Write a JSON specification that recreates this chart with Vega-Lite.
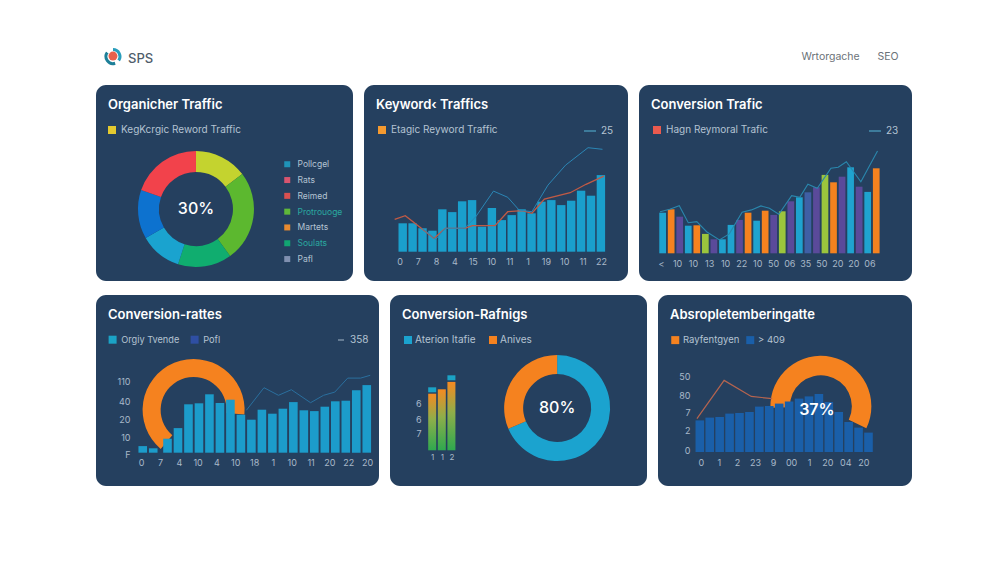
{
  "$schema": "https://vega.github.io/schema/vega-lite/v6.json",
  "description": "SEO dashboard with six dark cards",
  "background": "#ffffff",
  "padding": {"left": 96, "top": 47, "right": 0, "bottom": 0},
  "spacing": 14,
  "config": {
    "font": "Inter",
    "view": {"fill": "#25405f", "stroke": null, "cornerRadius": 10},
    "title": {"anchor": "start", "frame": "group", "color": "#ffffff", "fontSize": 13, "fontWeight": 600, "offset": -26.5, "dx": 12},
    "axis": {"domain": false, "ticks": false, "grid": false, "labelColor": "#a9b9c9", "labelFontSize": 9, "labelBound": false, "labelFlush": false, "labelAngle": 0, "labelOverlap": false, "tickCount": 30},
    "legend": {"labelColor": "#b4c3d2", "labelFontSize": 10, "symbolType": "square", "symbolSize": 64, "symbolStrokeWidth": 0, "symbolOpacity": 1, "labelLimit": 200, "padding": 0}
  },
  "vconcat": [
    {
      "width": 816,
      "height": 24,
      "view": {"fill": null, "stroke": null},
      "resolve": {"scale": {"color": "independent"}},
      "layer": [
        {
          "data": {"values": [{"part": "a", "share": 35}, {"part": "b", "share": 10}, {"part": "c", "share": 40}, {"part": "d", "share": 15}]},
          "transform": [{"stack": "share", "offset": "normalize", "groupby": [], "as": ["a0", "a1"]}],
          "mark": {"type": "arc", "innerRadius": 5.5, "outerRadius": 8.5},
          "encoding": {
            "x": {"datum": 0.0208, "type": "quantitative", "scale": {"domain": [0, 1]}, "axis": null},
            "y": {"datum": 0.6, "type": "quantitative", "scale": {"domain": [0, 1]}, "axis": null},
            "theta": {"field": "a0", "type": "quantitative", "scale": {"domain": [0, 1], "range": [0, 6.2832]}},
            "theta2": {"field": "a1"},
            "color": {"field": "part", "type": "nominal", "legend": null, "scale": {"domain": ["a", "b", "c", "d"], "range": ["#2a9dbb", "#ffffff", "#1d7f98", "#ffffff"]}}
          }
        },
        {
          "data": {"values": [{"part": "core", "share": 1}]},
          "mark": {"type": "arc", "innerRadius": 0, "outerRadius": 4.5, "color": "#e8604c"},
          "encoding": {
            "x": {"datum": 0.0208, "type": "quantitative", "scale": {"domain": [0, 1]}, "axis": null},
            "y": {"datum": 0.62, "type": "quantitative", "scale": {"domain": [0, 1]}, "axis": null},
            "theta": {"field": "share", "type": "quantitative", "stack": null, "scale": {"domain": [0, 1], "range": [0, 6.2832]}}
          }
        },
        {
          "data": {"values": [{"k": "SPS"}]},
          "transform": [{"filter": "false"}],
          "mark": {"type": "square"},
          "encoding": {
            "x": {"datum": 0, "type": "quantitative", "scale": {"domain": [0, 1]}, "axis": null},
            "y": {"datum": 0, "type": "quantitative", "scale": {"domain": [0, 1]}, "axis": null},
            "color": {"field": "k", "type": "nominal", "scale": {"domain": ["SPS"], "range": ["#ffffff"]}, "legend": {"title": null, "orient": "none", "legendX": 18, "legendY": 5, "labelColor": "#4f5d6b", "labelFontSize": 13, "labelFontWeight": 500, "symbolSize": 1, "symbolOpacity": 0, "labelOffset": 1}}
          }
        },
        {
          "data": {"values": [{"k": "Wrtorgache"}, {"k": "SEO"}]},
          "transform": [{"filter": "false"}],
          "mark": {"type": "square"},
          "encoding": {
            "x": {"datum": 0, "type": "quantitative", "scale": {"domain": [0, 1]}, "axis": null},
            "y": {"datum": 0, "type": "quantitative", "scale": {"domain": [0, 1]}, "axis": null},
            "color": {"field": "k", "type": "nominal", "scale": {"domain": ["Wrtorgache", "SEO"], "range": ["#ffffff", "#ffffff"]}, "legend": {"title": null, "orient": "none", "direction": "horizontal", "legendX": 694, "legendY": 5, "labelColor": "#6b7278", "labelFontSize": 10.5, "symbolSize": 1, "symbolOpacity": 0, "labelOffset": 1, "columnPadding": 6}}
          }
        }
      ]
    },
    {
      "hconcat": [
        {
          "width": 257,
          "height": 196,
          "title": {"text": "Organicher Traffic"},
          "resolve": {"scale": {"color": "independent"}},
          "layer": [
            {
              "data": {"values": [
                {"segment": "s1", "share": 14.7}, {"segment": "s2", "share": 25.3}, {"segment": "s3", "share": 15},
                {"segment": "s4", "share": 11.7}, {"segment": "s5", "share": 13.6}, {"segment": "s6", "share": 19.7}
              ]},
              "transform": [{"stack": "share", "offset": "normalize", "groupby": [], "as": ["a0", "a1"]}],
              "mark": {"type": "arc", "innerRadius": 37, "outerRadius": 58},
              "encoding": {
                "x": {"datum": 0.389, "type": "quantitative", "scale": {"domain": [0, 1]}, "axis": null},
                "y": {"datum": 0.367, "type": "quantitative", "scale": {"domain": [0, 1]}, "axis": null},
                "theta": {"field": "a0", "type": "quantitative", "scale": {"domain": [0, 1], "range": [0, 6.2832]}},
                "theta2": {"field": "a1"},
                "color": {"field": "segment", "type": "nominal", "legend": null, "scale": {"domain": ["s1", "s2", "s3", "s4", "s5", "s6"], "range": ["#c4d32f", "#5cb82f", "#10ad6f", "#1aa3cf", "#0d72cf", "#f2424b"]}}
              }
            },
            {
              "data": {"values": [{"label": "30%"}]},
              "mark": {"type": "text", "color": "#ffffff", "fontSize": 16, "fontWeight": 500},
              "encoding": {
                "x": {"datum": 0.389, "type": "quantitative", "scale": {"domain": [0, 1]}, "axis": null},
                "y": {"datum": 0.367, "type": "quantitative", "scale": {"domain": [0, 1]}, "axis": null},
                "text": {"field": "label"}
              }
            },
            {
              "data": {"values": [{"k": "KegKcrgic Reword Traffic"}]},
              "transform": [{"filter": "false"}],
              "mark": {"type": "square"},
              "encoding": {
                "x": {"datum": 0, "type": "quantitative", "scale": {"domain": [0, 1]}, "axis": null},
                "y": {"datum": 0, "type": "quantitative", "scale": {"domain": [0, 1]}, "axis": null},
                "color": {"field": "k", "type": "nominal", "scale": {"domain": ["KegKcrgic Reword Traffic"], "range": ["#e3c92f"]}, "legend": {"title": null, "orient": "none", "legendX": 11, "legendY": 40}}
              }
            },
            {
              "data": {"values": [{"k": "Pollcgel"}, {"k": "Rats"}, {"k": "Reimed"}, {"k": "Protrouoge"}, {"k": "Martets"}, {"k": "Soulats"}, {"k": "Pafl"}]},
              "transform": [{"filter": "false"}],
              "mark": {"type": "square"},
              "encoding": {
                "x": {"datum": 0, "type": "quantitative", "scale": {"domain": [0, 1]}, "axis": null},
                "y": {"datum": 0, "type": "quantitative", "scale": {"domain": [0, 1]}, "axis": null},
                "color": {"field": "k", "type": "nominal", "scale": {"domain": ["Pollcgel", "Rats", "Reimed", "Protrouoge", "Martets", "Soulats", "Pafl"], "range": ["#1f93b8", "#d8556f", "#d95050", "#5fb83a", "#e88a30", "#12a572", "#8090b0"]}, "legend": {"title": null, "orient": "none", "legendX": 187, "legendY": 75, "symbolSize": 36, "labelFontSize": 8.5, "rowPadding": 6.8, "labelOffset": 6, "encode": {"labels": {"update": {"fill": {"signal": "indexof(['Protrouoge','Soulats'],datum.label)>=0?'#2aa8a0':'#b4c3d2'"}}}}}}
              }
            }
          ]
        },
        {
          "width": 264,
          "height": 196,
          "title": {"text": "Keyword‹ Traffics"},
          "resolve": {"scale": {"color": "independent"}},
          "layer": [
            {
              "data": {"values": [
                {"i": 0, "v": 14.2}, {"i": 1, "v": 14.2}, {"i": 2, "v": 11.7}, {"i": 3, "v": 10.5}, {"i": 4, "v": 21.2}, {"i": 5, "v": 19.8}, {"i": 6, "v": 25.2},
                {"i": 7, "v": 25.8}, {"i": 8, "v": 12.5}, {"i": 9, "v": 21.8}, {"i": 10, "v": 15.8}, {"i": 11, "v": 18.3}, {"i": 12, "v": 21.2}, {"i": 13, "v": 19.2},
                {"i": 14, "v": 25}, {"i": 15, "v": 25.8}, {"i": 16, "v": 23.3}, {"i": 17, "v": 25.5}, {"i": 18, "v": 30.5}, {"i": 19, "v": 28}, {"i": 20, "v": 38.3}
              ]},
              "mark": {"type": "bar", "orient": "vertical", "width": 8.4, "color": "#1a9fcc"},
              "encoding": {
                "x": {"field": "i", "type": "quantitative", "scale": {"domain": [-3.4, 22.23]}, "axis": {"title": null, "offset": -29.3, "labelPadding": 6, "tickCount": 30, "labelOverlap": false, "values": [-0.32, 1.53, 3.37, 5.22, 7.07, 8.92, 10.76, 12.61, 14.46, 16.3, 18.15, 20], "labelExpr": "['0','7','8','4','15','10','11','1','19','10','11','22'][round((datum.value+0.32)/1.847)]"}},
                "y": {"field": "v", "type": "quantitative", "stack": null, "scale": {"domain": [-14.65, 83.35]}, "axis": null}
              }
            },
            {
              "data": {"values": [
                {"i": -0.81, "v": 16.2}, {"i": 0.26, "v": 18}, {"i": 1.88, "v": 11.7}, {"i": 3.17, "v": 6.7}, {"i": 4.3, "v": 11.7}, {"i": 6.25, "v": 11.7}, {"i": 7.05, "v": 13},
                {"i": 9.32, "v": 13}, {"i": 10.6, "v": 20}, {"i": 12.07, "v": 20.5}, {"i": 13.04, "v": 19.2}, {"i": 14.3, "v": 26.3}, {"i": 16.9, "v": 29.5}, {"i": 18.5, "v": 33.7}, {"i": 20.3, "v": 37.8}
              ]},
              "mark": {"type": "line", "color": "#c05a45", "strokeWidth": 1.3},
              "encoding": {
                "x": {"field": "i", "type": "quantitative", "scale": {"domain": [-3.4, 22.23]}},
                "y": {"field": "v", "type": "quantitative", "scale": {"domain": [-14.65, 83.35]}, "axis": null}
              }
            },
            {
              "data": {"values": [
                {"i": 1.97, "v": 11.7}, {"i": 3.33, "v": 6.2}, {"i": 4.3, "v": 11.7}, {"i": 6.25, "v": 11.7}, {"i": 7.38, "v": 17.5}, {"i": 9.16, "v": 30.3}, {"i": 10.6, "v": 27.2},
                {"i": 11.75, "v": 20.8}, {"i": 13.04, "v": 20}, {"i": 14.66, "v": 33.3}, {"i": 16.44, "v": 43.3}, {"i": 18.7, "v": 52}, {"i": 20.16, "v": 51.2}
              ]},
              "mark": {"type": "line", "color": "#2b86b5", "strokeWidth": 1},
              "encoding": {
                "x": {"field": "i", "type": "quantitative", "scale": {"domain": [-3.4, 22.23]}},
                "y": {"field": "v", "type": "quantitative", "scale": {"domain": [-14.65, 83.35]}, "axis": null}
              }
            },
            {
              "data": {"values": [{"k": "Etagic Reyword Traffic"}]},
              "transform": [{"filter": "false"}],
              "mark": {"type": "square"},
              "encoding": {
                "x": {"datum": 0, "type": "quantitative", "scale": {"domain": [-3.4, 22.23]}},
                "y": {"datum": 0, "type": "quantitative", "scale": {"domain": [-14.65, 83.35]}, "axis": null},
                "color": {"field": "k", "type": "nominal", "scale": {"domain": ["Etagic Reyword Traffic"], "range": ["#f59a2f"]}, "legend": {"title": null, "orient": "none", "legendX": 13, "legendY": 40}}
              }
            },
            {
              "data": {"values": [{"k": "25"}]},
              "transform": [{"filter": "false"}],
              "mark": {"type": "point"},
              "encoding": {
                "x": {"datum": 0, "type": "quantitative", "scale": {"domain": [-3.4, 22.23]}},
                "y": {"datum": 0, "type": "quantitative", "scale": {"domain": [-14.65, 83.35]}, "axis": null},
                "color": {"field": "k", "type": "nominal", "scale": {"domain": ["25"], "range": ["#4fa3c4"]}, "legend": {"title": null, "orient": "none", "legendX": 219, "legendY": 39, "symbolType": "stroke", "symbolStrokeWidth": 1.2, "symbolSize": 144}}
              }
            }
          ]
        },
        {
          "width": 273,
          "height": 196,
          "title": {"text": "Conversion Trafic"},
          "resolve": {"scale": {"color": "independent"}},
          "layer": [
            {
              "data": {"values": [
                {"i": 0, "v": 20.3, "kind": "teal"}, {"i": 1, "v": 22, "kind": "orange"}, {"i": 2, "v": 18.3, "kind": "purple"}, {"i": 3, "v": 13.8, "kind": "teal"},
                {"i": 4, "v": 14, "kind": "orange"}, {"i": 5, "v": 9.7, "kind": "lime"}, {"i": 6, "v": 7, "kind": "purple"}, {"i": 7, "v": 7, "kind": "teal"},
                {"i": 8, "v": 14.2, "kind": "teal"}, {"i": 9, "v": 16.7, "kind": "purple"}, {"i": 10, "v": 20.3, "kind": "orange"}, {"i": 11, "v": 16.3, "kind": "teal"},
                {"i": 12, "v": 21.3, "kind": "orange"}, {"i": 13, "v": 19.2, "kind": "purple"}, {"i": 14, "v": 21, "kind": "lime"}, {"i": 15, "v": 26, "kind": "purple"},
                {"i": 16, "v": 28, "kind": "teal"}, {"i": 17, "v": 30.5, "kind": "indigo"}, {"i": 18, "v": 33, "kind": "purple"}, {"i": 19, "v": 39.2, "kind": "lime"},
                {"i": 20, "v": 35.5, "kind": "orange"}, {"i": 21, "v": 38.3, "kind": "purple"}, {"i": 22, "v": 43, "kind": "teal"}, {"i": 23, "v": 33.3, "kind": "purple"},
                {"i": 24, "v": 30.7, "kind": "teal"}, {"i": 25, "v": 42.5, "kind": "orange"}
              ]},
              "mark": {"type": "bar", "orient": "vertical", "width": 6.7},
              "encoding": {
                "x": {"field": "i", "type": "quantitative", "scale": {"domain": [-2.18, 28.6]}, "axis": {"title": null, "offset": -27.7, "labelPadding": 6, "tickCount": 30, "labelOverlap": false, "values": [-0.19, 1.69, 3.56, 5.44, 7.31, 9.19, 11.07, 12.94, 14.82, 16.69, 18.57, 20.45, 22.32, 24.2], "labelExpr": "['<','10','10','13','10','22','10','50','06','35','50','20','20','06'][round((datum.value+0.19)/1.876)]"}},
                "y": {"field": "v", "type": "quantitative", "stack": null, "scale": {"domain": [-13.85, 84.15]}, "axis": null},
                "color": {"field": "kind", "type": "nominal", "legend": null, "scale": {"domain": ["teal", "orange", "purple", "lime", "indigo"], "range": ["#1fa3cf", "#f5821f", "#5a4a9a", "#9bc53d", "#3f5fa5"]}}
              }
            },
            {
              "data": {"values": [
                {"i": -0.3, "v": 20.8}, {"i": 0.83, "v": 22}, {"i": 1.95, "v": 23.8}, {"i": 3, "v": 15.3}, {"i": 4, "v": 15.8}, {"i": 5.15, "v": 10.8}, {"i": 6.65, "v": 6.7},
                {"i": 7.8, "v": 9.7}, {"i": 9.3, "v": 20.5}, {"i": 10.4, "v": 21.7}, {"i": 11.5, "v": 23.7}, {"i": 12.5, "v": 22.5}, {"i": 13.6, "v": 19.5}, {"i": 15.1, "v": 28.8},
                {"i": 16.05, "v": 28}, {"i": 17, "v": 34.5}, {"i": 18.1, "v": 32.5}, {"i": 19.7, "v": 42.5}, {"i": 20.55, "v": 43}, {"i": 21.5, "v": 45.8}, {"i": 23.2, "v": 35.8}, {"i": 25.15, "v": 51.2}
              ]},
              "mark": {"type": "line", "color": "#2a87ad", "strokeWidth": 1.1},
              "encoding": {
                "x": {"field": "i", "type": "quantitative", "scale": {"domain": [-2.18, 28.6]}},
                "y": {"field": "v", "type": "quantitative", "scale": {"domain": [-13.85, 84.15]}, "axis": null}
              }
            },
            {
              "data": {"values": [{"k": "Hagn Reymoral Trafic"}]},
              "transform": [{"filter": "false"}],
              "mark": {"type": "square"},
              "encoding": {
                "x": {"datum": 0, "type": "quantitative", "scale": {"domain": [-2.18, 28.6]}},
                "y": {"datum": 0, "type": "quantitative", "scale": {"domain": [-13.85, 84.15]}, "axis": null},
                "color": {"field": "k", "type": "nominal", "scale": {"domain": ["Hagn Reymoral Trafic"], "range": ["#ea5a4e"]}, "legend": {"title": null, "orient": "none", "legendX": 13, "legendY": 40}}
              }
            },
            {
              "data": {"values": [{"k": "23"}]},
              "transform": [{"filter": "false"}],
              "mark": {"type": "point"},
              "encoding": {
                "x": {"datum": 0, "type": "quantitative", "scale": {"domain": [-2.18, 28.6]}},
                "y": {"datum": 0, "type": "quantitative", "scale": {"domain": [-13.85, 84.15]}, "axis": null},
                "color": {"field": "k", "type": "nominal", "scale": {"domain": ["23"], "range": ["#4fa3c4"]}, "legend": {"title": null, "orient": "none", "legendX": 229, "legendY": 39, "symbolType": "stroke", "symbolStrokeWidth": 1.2, "symbolSize": 144}}
              }
            }
          ]
        }
      ],
      "spacing": 11
    },
    {
      "hconcat": [
        {
          "width": 283,
          "height": 191,
          "title": {"text": "Conversion-rattes"},
          "resolve": {"scale": {"color": "independent"}},
          "layer": [
            {
              "data": {"values": [{"part": "gauge", "start": -2.44, "end": 1.66}]},
              "mark": {"type": "arc", "innerRadius": 33, "outerRadius": 51, "color": "#f5821f"},
              "encoding": {
                "x": {"datum": 4.85, "type": "quantitative", "scale": {"domain": [-3.98, 22.05]}},
                "y": {"datum": 21.35, "type": "quantitative", "scale": {"domain": [-16.65, 78.85]}},
                "theta": {"field": "start", "type": "quantitative", "scale": null},
                "theta2": {"field": "end"}
              }
            },
            {
              "data": {"values": [
                {"i": 0, "v": 3.3}, {"i": 1, "v": 2.2}, {"i": 2.36, "v": 7}, {"i": 3.36, "v": 12.3}, {"i": 4.36, "v": 24.2}, {"i": 5.36, "v": 24.7}, {"i": 6.36, "v": 29.2},
                {"i": 7.36, "v": 24.8}, {"i": 8.36, "v": 26.5}, {"i": 9.36, "v": 19}, {"i": 10.36, "v": 16.5}, {"i": 11.36, "v": 21.5}, {"i": 12.36, "v": 19.5}, {"i": 13.36, "v": 22},
                {"i": 14.36, "v": 25.3}, {"i": 15.36, "v": 21.2}, {"i": 16.36, "v": 20.8}, {"i": 17.36, "v": 23}, {"i": 18.36, "v": 25.7}, {"i": 19.36, "v": 26}, {"i": 20.36, "v": 31.2}, {"i": 21.36, "v": 33.8}
              ]},
              "mark": {"type": "bar", "orient": "vertical", "width": 8.6, "color": "#1c9ccb"},
              "encoding": {
                "x": {"field": "i", "type": "quantitative", "scale": {"domain": [-3.98, 22.05]}, "axis": {"title": null, "offset": -33.3, "labelPadding": 6, "tickCount": 30, "labelOverlap": false, "values": [-0.15, 1.64, 3.44, 5.23, 7.03, 8.82, 10.62, 12.41, 14.21, 16, 17.8, 19.59, 21.39], "labelExpr": "['0','7','4','10','4','10','18','1','10','11','20','22','20'][round((datum.value+0.15)/1.795)]"}},
                "y": {"field": "v", "type": "quantitative", "stack": null, "scale": {"domain": [-16.65, 78.85]}, "axis": {"title": null, "offset": -34, "labelPadding": 0, "tickCount": 30, "labelOverlap": false, "values": [-1, 7.8, 16.7, 25.8, 35.8], "labelExpr": "['F','10','20','40','110'][round((datum.value+1)/9.2)]"}}
              }
            },
            {
              "data": {"values": [
                {"i": 9.88, "v": 21.2}, {"i": 11.56, "v": 32.5}, {"i": 12.94, "v": 28.7}, {"i": 14.17, "v": 31.5}, {"i": 16, "v": 25},
                {"i": 17.24, "v": 28.7}, {"i": 18.31, "v": 30.3}, {"i": 19.54, "v": 37.3}, {"i": 20.77, "v": 37.3}, {"i": 21.69, "v": 38.7}
              ]},
              "mark": {"type": "line", "color": "#2a6f9e", "strokeWidth": 1},
              "encoding": {
                "x": {"field": "i", "type": "quantitative", "scale": {"domain": [-3.98, 22.05]}},
                "y": {"field": "v", "type": "quantitative", "scale": {"domain": [-16.65, 78.85]}}
              }
            },
            {
              "data": {"values": [{"k": "Orgiy Tvende"}, {"k": "Pofl"}]},
              "transform": [{"filter": "false"}],
              "mark": {"type": "square"},
              "encoding": {
                "x": {"datum": 0, "type": "quantitative", "scale": {"domain": [-3.98, 22.05]}},
                "y": {"datum": 0, "type": "quantitative", "scale": {"domain": [-16.65, 78.85]}},
                "color": {"field": "k", "type": "nominal", "scale": {"domain": ["Orgiy Tvende", "Pofl"], "range": ["#1ba3c6", "#2f4fa3"]}, "legend": {"title": null, "orient": "none", "direction": "horizontal", "legendX": 12, "legendY": 40, "labelFontSize": 9.2, "columnPadding": 10}}
              }
            },
            {
              "data": {"values": [{"k": "358"}]},
              "transform": [{"filter": "false"}],
              "mark": {"type": "point"},
              "encoding": {
                "x": {"datum": 0, "type": "quantitative", "scale": {"domain": [-3.98, 22.05]}},
                "y": {"datum": 0, "type": "quantitative", "scale": {"domain": [-16.65, 78.85]}},
                "color": {"field": "k", "type": "nominal", "scale": {"domain": ["358"], "range": ["#8fa3b8"]}, "legend": {"title": null, "orient": "none", "legendX": 240, "legendY": 40, "symbolType": "stroke", "symbolStrokeWidth": 1.2, "symbolSize": 36}}
              }
            }
          ]
        },
        {
          "width": 257,
          "height": 191,
          "title": {"text": "Conversion-Rafnigs"},
          "resolve": {"scale": {"color": "independent"}},
          "layer": [
            {
              "data": {"values": [{"i": 0, "v": 28.3}, {"i": 1, "v": 30.5}, {"i": 2, "v": 34.2}]},
              "mark": {"type": "bar", "orient": "vertical", "width": 8, "color": {"gradient": "linear", "x1": 0, "y1": 0, "x2": 0, "y2": 1, "stops": [{"offset": 0, "color": "#f58a22"}, {"offset": 0.45, "color": "#8eae4a"}, {"offset": 1, "color": "#2fa84f"}]}},
              "encoding": {
                "x": {"field": "i", "type": "quantitative", "scale": {"domain": [-3.87, 21.83]}, "axis": {"title": null, "offset": -35.7, "labelPadding": 3, "labelFontSize": 8, "tickCount": 30, "labelOverlap": false, "values": [0, 1, 2], "labelExpr": "['1','1','2'][datum.value]"}},
                "y": {"field": "v", "type": "quantitative", "stack": null, "scale": {"domain": [-17.85, 77.65]}, "axis": {"title": null, "offset": -31, "labelPadding": 0, "tickCount": 30, "labelOverlap": false, "values": [8.3, 15.5, 23.2], "labelExpr": "['7','6','6'][round((datum.value-8.3)/7.4)]"}}
              }
            },
            {
              "data": {"values": [{"i": 0, "v": 29, "v2": 31.5}, {"i": 2, "v": 35, "v2": 37.5}]},
              "mark": {"type": "bar", "orient": "vertical", "width": 8, "color": "#1ba3c6"},
              "encoding": {
                "x": {"field": "i", "type": "quantitative", "scale": {"domain": [-3.87, 21.83]}},
                "y": {"field": "v", "type": "quantitative", "stack": null, "scale": {"domain": [-17.85, 77.65]}},
                "y2": {"field": "v2"}
              }
            },
            {
              "data": {"values": [{"segment": "Aterion Itafie", "share": 68.6}, {"segment": "Anives", "share": 31.4}]},
              "transform": [{"stack": "share", "offset": "normalize", "groupby": [], "as": ["a0", "a1"]}],
              "mark": {"type": "arc", "innerRadius": 34, "outerRadius": 53},
              "encoding": {
                "x": {"datum": 13, "type": "quantitative", "scale": {"domain": [-3.87, 21.83]}},
                "y": {"datum": 21.15, "type": "quantitative", "scale": {"domain": [-17.85, 77.65]}},
                "theta": {"field": "a0", "type": "quantitative", "scale": {"domain": [0, 1], "range": [0, 6.2832]}},
                "theta2": {"field": "a1"},
                "color": {"field": "segment", "type": "nominal", "scale": {"domain": ["Aterion Itafie", "Anives"], "range": ["#1ba3cf", "#f5821f"]}, "legend": {"title": null, "orient": "none", "direction": "horizontal", "legendX": 13, "legendY": 40, "columnPadding": 12, "labelOffset": 2}}
              }
            },
            {
              "data": {"values": [{"label": "80%"}]},
              "mark": {"type": "text", "color": "#ffffff", "fontSize": 16, "fontWeight": 500},
              "encoding": {
                "x": {"datum": 13, "type": "quantitative", "scale": {"domain": [-3.87, 21.83]}},
                "y": {"datum": 21.15, "type": "quantitative", "scale": {"domain": [-17.85, 77.65]}},
                "text": {"field": "label"}
              }
            }
          ]
        },
        {
          "width": 254,
          "height": 191,
          "title": {"text": "Absropletemberingatte"},
          "resolve": {"scale": {"color": "independent"}},
          "layer": [
            {
              "data": {"values": [{"part": "gauge", "start": -1.6, "end": 2.02}]},
              "mark": {"type": "arc", "innerRadius": 31, "outerRadius": 50.5, "color": "#f5821f"},
              "encoding": {
                "x": {"datum": 12.2, "type": "quantitative", "scale": {"domain": [-3.71, 20.88]}},
                "y": {"datum": 22.85, "type": "quantitative", "scale": {"domain": [-17, 78.5]}},
                "theta": {"field": "start", "type": "quantitative", "scale": null},
                "theta2": {"field": "end"}
              }
            },
            {
              "data": {"values": [
                {"i": 0, "v": 15.8}, {"i": 1, "v": 17.2}, {"i": 2, "v": 17.5}, {"i": 3, "v": 19.2}, {"i": 4, "v": 19.5}, {"i": 5, "v": 20}, {"i": 6, "v": 22.7}, {"i": 7, "v": 23}, {"i": 8, "v": 24.2},
                {"i": 9, "v": 25.3}, {"i": 10, "v": 26.7}, {"i": 11, "v": 27.8}, {"i": 12, "v": 29}, {"i": 13, "v": 25}, {"i": 14, "v": 20}, {"i": 15, "v": 15}, {"i": 16, "v": 12.2}, {"i": 17, "v": 9.7}
              ]},
              "mark": {"type": "bar", "orient": "vertical", "width": 8.6, "color": "#1a5fa9"},
              "encoding": {
                "x": {"field": "i", "type": "quantitative", "scale": {"domain": [-3.71, 20.88]}, "axis": {"title": null, "offset": -34, "labelPadding": 6, "tickCount": 30, "labelOverlap": false, "values": [0.1, 1.92, 3.74, 5.56, 7.38, 9.2, 11.02, 12.84, 14.66, 16.48], "labelExpr": "['0','1','2','23','9','00','1','20','04','20'][round((datum.value-0.1)/1.82)]"}},
                "y": {"field": "v", "type": "quantitative", "stack": null, "scale": {"domain": [-17, 78.5]}, "axis": {"title": null, "offset": -32, "labelPadding": 0, "tickCount": 30, "labelOverlap": false, "values": [0.7, 10.8, 19.8, 28.3, 37.8], "labelExpr": "['0','2','7','80','50'][round((datum.value-0.7)/9.3)]"}}
              }
            },
            {
              "data": {"values": [{"i": -0.29, "v": 16.7}, {"i": 2.45, "v": 35.8}, {"i": 5.19, "v": 27.8}, {"i": 7.29, "v": 26.7}]},
              "mark": {"type": "line", "color": "#b5644f", "strokeWidth": 1.2},
              "encoding": {
                "x": {"field": "i", "type": "quantitative", "scale": {"domain": [-3.71, 20.88]}},
                "y": {"field": "v", "type": "quantitative", "scale": {"domain": [-17, 78.5]}}
              }
            },
            {
              "data": {"values": [{"label": "37%"}]},
              "mark": {"type": "text", "color": "#ffffff", "fontSize": 16, "fontWeight": 600},
              "encoding": {
                "x": {"datum": 11.8, "type": "quantitative", "scale": {"domain": [-3.71, 20.88]}},
                "y": {"datum": 20.85, "type": "quantitative", "scale": {"domain": [-17, 78.5]}},
                "text": {"field": "label"}
              }
            },
            {
              "data": {"values": [{"k": "Rayfentgyen"}, {"k": "> 409"}]},
              "transform": [{"filter": "false"}],
              "mark": {"type": "square"},
              "encoding": {
                "x": {"datum": 0, "type": "quantitative", "scale": {"domain": [-3.71, 20.88]}},
                "y": {"datum": 0, "type": "quantitative", "scale": {"domain": [-17, 78.5]}},
                "color": {"field": "k", "type": "nominal", "scale": {"domain": ["Rayfentgyen", "> 409"], "range": ["#f5821f", "#1a5fa9"]}, "legend": {"title": null, "orient": "none", "direction": "horizontal", "legendX": 12.5, "legendY": 40, "labelFontSize": 9.5, "labelOffset": 3, "columnPadding": 6}}
              }
            }
          ]
        }
      ],
      "spacing": 11
    }
  ]
}
